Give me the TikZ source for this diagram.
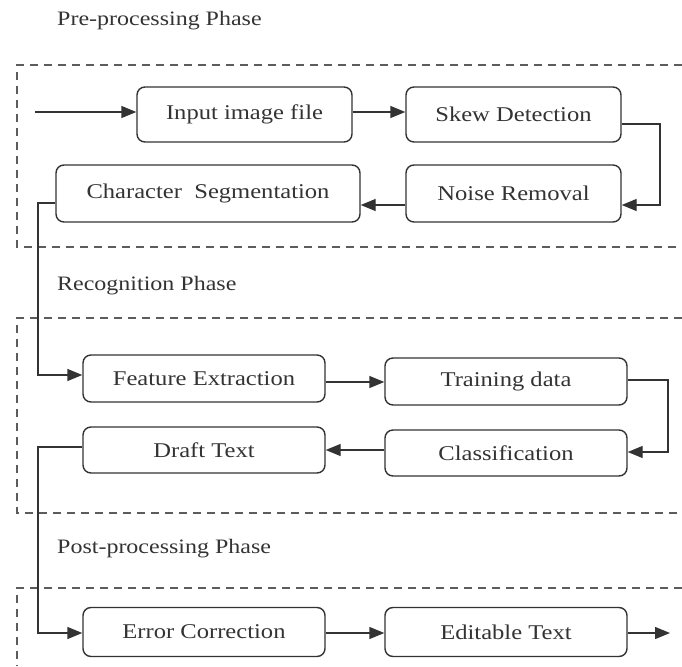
\documentclass[tikz,border=0pt]{standalone}
\usepackage{fontspec}
\setmainfont{Liberation Serif}[FakeStretch=1.17]
\usetikzlibrary{arrows.meta}
\definecolor{ink}{HTML}{333333}
\tikzset{
  box/.style={draw=ink, line width=1.4pt, rounded corners=8pt, inner sep=0pt, text=ink,
    font=\fontsize{21}{24}\selectfont},
  phase/.style={draw=ink!80, line width=1.2pt, dash pattern=on 8pt off 6pt},
  lbl/.style={anchor=west, inner sep=0pt, text=ink, font=\fontsize{20.5}{24}\selectfont},
  conn/.style={draw=ink, line width=1.4pt, -{Triangle[length=15pt,width=12pt]}},
}
\begin{document}
\begin{tikzpicture}[x=1pt,y=-1pt]
\useasboundingbox (0,0) rectangle (682,666);
% phase frames
\draw[phase] (682,65) -- (17,65) -- (17,247) -- (682,247);
\draw[phase] (682,318) -- (17,318) -- (17,513) -- (682,513);
\draw[phase] (682,588) -- (17,588) -- (17,666);
% labels
\node[lbl] (l1) at (57,21) {Pre-processing Phase};
\node[lbl] (l2) at (57,286) {Recognition Phase};
\node[lbl] (l3) at (57,549) {Post-processing Phase};
% nodes
\node[box, minimum width=215pt, minimum height=55pt] (inp) at (244.5,114.5) {Input image file};
\node[box, minimum width=215pt, minimum height=55pt] (skew) at (513.5,114.5) {Skew Detection};
\node[box, minimum width=304pt, minimum height=57pt] (cseg) at (208,193.5) {Character\ \ Segmentation};
\node[box, minimum width=215pt, minimum height=57pt] (noise) at (513.5,193.5) {Noise Removal};
\node[box, minimum width=242pt, minimum height=47pt] (feat) at (204,378.5) {Feature Extraction};
\node[box, minimum width=242pt, minimum height=47pt] (train) at (506,381.5) {Training data};
\node[box, minimum width=242pt, minimum height=46pt] (draft) at (204,450) {Draft Text};
\node[box, minimum width=242pt, minimum height=46pt] (cls) at (506,453) {Classification};
\node[box, minimum width=242pt, minimum height=49pt] (err) at (204,632) {Error Correction};
\node[box, minimum width=242pt, minimum height=49pt] (edit) at (506,632) {Editable Text};
\coordinate (start) at (35,112);
\coordinate (finish) at (670,633);
% connectors
\draw[conn] (start) -- (inp.west |- start);
\draw[conn] (inp.east |- start) -- (skew.west |- start);
\draw[conn] (skew.east |- 0,124) -- (660,124) |- (noise.east |- 0,205);
\draw[conn] (noise.west |- 0,205) -- (cseg.east |- 0,205);
\draw[conn] (cseg.west |- 0,203) -- (38,203) |- (feat.west |- 0,375);
\draw[conn] (feat.east |- 0,382) -- (train.west |- 0,382);
\draw[conn] (train.east |- 0,380) -- (668,380) |- (cls.east |- 0,452);
\draw[conn] (cls.west |- 0,450) -- (draft.east |- 0,450);
\draw[conn] (draft.west |- 0,447) -- (38,447) |- (err.west |- 0,633);
\draw[conn] (err.east |- 0,633) -- (edit.west |- 0,633);
\draw[conn] (edit.east |- 0,633) -- (finish);
\end{tikzpicture}
\end{document}
